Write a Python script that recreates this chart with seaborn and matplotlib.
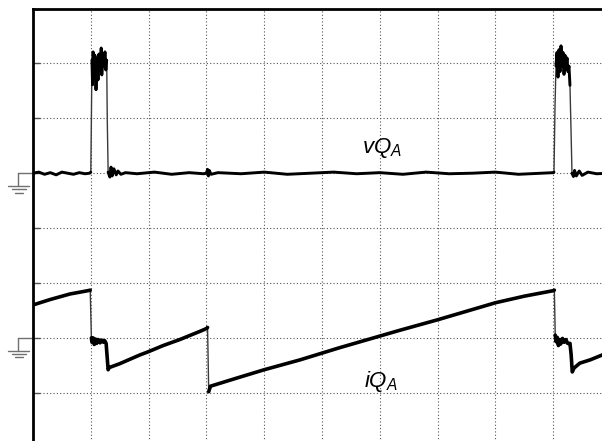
import matplotlib
matplotlib.use("Agg")
import matplotlib.pyplot as plt
import seaborn as sns
import numpy as np
import pandas as pd

# Time axis in horizontal divisions, amplitudes in vertical divisions
vqa_t = [0.00, 0.10, 0.20, 0.30, 0.40, 0.50, 0.60, 0.70, 0.80, 0.90, 0.98,
         1.000, 1.010, 1.020, 1.030, 1.040, 1.055, 1.070, 1.090, 1.110, 1.125,
         1.140, 1.160, 1.180, 1.190, 1.210, 1.230, 1.245, 1.260, 1.275, 1.285,
         1.300, 1.330, 1.350, 1.370, 1.400, 1.440, 1.470, 1.520, 1.600,
         1.80, 2.10, 2.40, 2.70, 2.95, 3.00, 3.020, 3.035, 3.050, 3.080,
         3.20, 3.60, 4.00, 4.40, 4.80, 5.20, 5.60, 6.00, 6.40, 6.80, 7.20,
         7.60, 8.00, 8.40, 8.80, 9.000,
         9.014, 9.031, 9.048, 9.066, 9.083, 9.100, 9.118, 9.135, 9.152, 9.170,
         9.187, 9.204, 9.221, 9.239, 9.256, 9.273, 9.290, 9.308, 9.325,
         9.350, 9.370, 9.400, 9.450, 9.500, 9.600, 9.750, 10.0]
vqa_v = [5.00, 5.02, 4.98, 5.01, 4.97, 5.02, 5.00, 4.98, 5.01, 4.99, 5.00,
         5.02, 5.97, 7.06, 6.61, 7.21, 6.73, 7.15, 6.52, 7.10, 6.70,
         7.17, 6.88, 7.28, 6.79, 7.14, 6.95, 7.21, 6.88, 7.06, 5.97,
         5.02, 4.93, 5.11, 4.95, 5.08, 4.97, 5.04, 4.98, 5.01,
         4.99, 5.02, 4.98, 5.01, 4.99, 5.00, 5.07, 4.95, 5.05, 4.98,
         5.01, 4.99, 5.02, 4.98, 5.00, 5.02, 4.99, 5.01, 4.98, 5.02, 4.99,
         5.00, 5.02, 4.98, 5.00, 5.01,
         5.02, 6.20, 6.95, 7.20, 6.75, 7.25, 6.85, 7.32, 6.95, 7.20,
         6.80, 7.15, 6.90, 7.10, 6.85, 6.95, 6.60, 5.80, 5.00,
         4.94, 5.05, 4.95, 5.04, 4.96, 5.02, 4.99, 5.00]

iqa_t = [0.00, 0.30, 0.64, 0.95, 0.99,
         1.010, 1.020, 1.040, 1.060, 1.080, 1.100, 1.130, 1.160, 1.190, 1.220,
         1.240, 1.265, 1.300, 1.320, 1.50, 1.85, 2.00, 2.25, 2.54, 2.89,
         3.000, 3.020, 3.040, 3.070, 3.50, 4.00, 4.62, 5.30, 6.35,
         7.00, 8.00, 8.50, 9.000,
         9.020, 9.035, 9.050, 9.070, 9.090, 9.110, 9.130, 9.160, 9.190, 9.220,
         9.250, 9.290, 9.310, 9.330, 9.360, 9.460, 9.640, 9.850, 10.0]
iqa_v = [2.60, 2.70, 2.80, 2.86, 2.87,
         2.00, 1.92, 2.00, 1.88, 1.98, 1.90, 1.97, 1.91, 1.96, 1.92,
         1.95, 1.90, 1.42, 1.46, 1.53, 1.69, 1.75, 1.86, 1.97, 2.12,
         2.17, 2.19, 1.02, 1.12, 1.26, 1.42, 1.60, 1.82, 2.14,
         2.33, 2.64, 2.76, 2.86,
         2.87, 2.05, 1.93, 2.01, 1.86, 1.97, 1.89, 1.99, 1.92, 1.97,
         1.90, 1.90, 1.70, 1.38, 1.45, 1.54, 1.60, 1.69, 1.72]

# Reference (zero) levels of the two channels
ground_levels = [5.0, 2.0]
trace_labels = [r"$vQ_A$", r"$iQ_A$"]
label_t = [5.70, 5.72]
label_v = [5.36, 1.11]

sns.set_style("white")
plt.rcParams["mathtext.fontset"] = "custom"
plt.rcParams["mathtext.it"] = "Liberation Sans:italic"
plt.rcParams["mathtext.rm"] = "Liberation Sans"
plt.rcParams["font.family"] = ["Liberation Sans", "DejaVu Sans"]

W, H = 602, 441
fig = plt.figure(figsize=(W / 100, H / 100), dpi=100)
ax = fig.add_axes([33 / W, (H - 447.7) / H, 578 / W, 439.2 / H])
ax.set_xlim(0, 10)
ax.set_ylim(0, 8)

# Graticule
ax.set_xticks(range(0, 11))
ax.set_yticks(range(0, 9))
ax.grid(True, color="#555555", linestyle=(0, (1, 2)), linewidth=0.8)
ax.tick_params(axis="y", which="both", direction="in", length=5, width=1,
               color="#555555", labelleft=False, left=True)
ax.tick_params(axis="x", which="both", bottom=False, labelbottom=False)
for side in ("right", "bottom"):
    ax.spines[side].set_visible(False)
for side in ("left", "top"):
    ax.spines[side].set_linewidth(2.0)
    ax.spines[side].set_color("black")


def trace_frame(t, v):
    """Split a trace into runs separated by fast switching edges."""
    v_arr = np.asarray(v)
    edge = np.abs(np.diff(v_arr)) >= 0.69
    seg = np.concatenate([[0], np.cumsum(edge)])
    return pd.DataFrame({"t": t, "v": v, "seg": seg})


for t, v, lw in ((vqa_t, vqa_v, 2.1), (iqa_t, iqa_v, 2.6)):
    df = trace_frame(t, v)
    # thin line carries the fast edges
    sns.lineplot(data=df, x="t", y="v", ax=ax, color="#3a3a3a", linewidth=1.0,
                 estimator=None, sort=False, zorder=3)
    # heavy, noisy runs between the edges
    sns.lineplot(data=df, x="t", y="v", units="seg", ax=ax, color="black",
                 linewidth=lw, estimator=None, sort=False, zorder=4)
ax.set_xlabel("")
ax.set_ylabel("")

for lab, tx, ty in zip(trace_labels, label_t, label_v):
    ax.text(tx, ty, lab, fontsize=16, ha="left", va="baseline", color="black")

# Ground markers at each channel's zero level
gcol = "#707070"
for g in ground_levels:
    ax.plot([-0.254, 0.0], [g, g], color=gcol, lw=1.0, clip_on=False)
    ax.plot([-0.254, -0.254], [g, g - 0.231], color=gcol, lw=1.0, clip_on=False)
    ax.plot([-0.427, -0.064], [g - 0.231, g - 0.231], color=gcol, lw=1.0, clip_on=False)
    ax.plot([-0.369, -0.121], [g - 0.291, g - 0.291], color=gcol, lw=1.0, clip_on=False)
    ax.plot([-0.311, -0.178], [g - 0.353, g - 0.353], color=gcol, lw=1.0, clip_on=False)

fig.savefig("out.png", dpi=100)
